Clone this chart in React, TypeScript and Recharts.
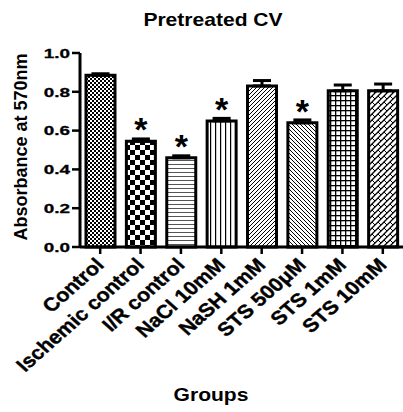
import { Bar, BarChart, Cell, ErrorBar, LabelList, XAxis, YAxis } from "recharts";

const groups = [
    "Control",
    "Ischemic control",
    "I/R control",
    "NaCl 10mM",
    "NaSH 1mM",
    "STS 500μM",
    "STS 1mM",
    "STS 10mM",
];
const means = [0.885, 0.545, 0.46, 0.65, 0.83, 0.64, 0.805, 0.805];
const sem = [0.008, 0.012, 0.01, 0.013, 0.028, 0.015, 0.03, 0.035];
const significant = [false, true, true, true, false, true, false, false];
const yTicks = [0, 0.2, 0.4, 0.6, 0.8, 1.0];

const data = groups.map((g, i) => ({
    group: g,
    mean: means[i],
    err: [0, sem[i]],
    star: significant[i] ? "*" : "",
}));

const FONT = "'Liberation Sans', Arial, sans-serif";

const YTick = (props: any) => {
    const { x, y, payload } = props;
    return (
        <text
            transform={`translate(${x},${y}) scale(1.4,1)`}
            textAnchor="end"
            dy="0.36em"
            fontFamily={FONT}
            fontWeight="bold"
            fontSize={13.5}
            fill="#000"
            stroke="#000"
            strokeWidth={0.3}
        >
            {Number(payload.value).toFixed(1)}
        </text>
    );
};

const XTick = (props: any) => {
    const { x, y, payload } = props;
    return (
        <text
            transform={`translate(${x + 5},${y + 10}) scale(1.13,1) rotate(-45)`}
            textAnchor="end"
            fontFamily={FONT}
            fontWeight="bold"
            fontSize={19}
            fill="#000"
            stroke="#000"
            strokeWidth={0.4}
        >
            {payload.value}
        </text>
    );
};

// asterisk over the significant groups
const StarLabel = (props: any) => {
    const { x, y, width, value } = props;
    if (!value) return null;
    return (
        <text
            x={x + width / 2}
            y={y}
            textAnchor="middle"
            fontFamily={FONT}
            fontWeight="bold"
            fontSize={34}
            fill="#000"
        >
            {value}
        </text>
    );
};

export default function App() {
    return (
        <div style={{ position: "absolute", left: 0, top: 0, width: 403, height: 412, background: "#fff" }}>
            <BarChart
                width={403}
                height={412}
                data={data}
                margin={{ top: 53, right: 0, left: 0, bottom: 0 }}
            >
                <defs>
                    <pattern id="p0" width="4" height="4" patternUnits="userSpaceOnUse">
                        <rect width="4" height="4" fill="#fff" />
                        <rect width="2" height="2" fill="#000" />
                        <rect x="2" y="2" width="2" height="2" fill="#000" />
                    </pattern>
                    <pattern id="p1" width="10" height="10" patternUnits="userSpaceOnUse">
                        <rect width="10" height="10" fill="#fff" />
                        <rect width="5" height="5" fill="#000" />
                        <rect x="5" y="5" width="5" height="5" fill="#000" />
                    </pattern>
                    <pattern id="p2" width="4" height="4" patternUnits="userSpaceOnUse">
                        <rect width="4" height="4" fill="#fff" />
                        <rect y="0" width="4" height="1" fill="#555" />
                    </pattern>
                    <pattern id="p3" width="5" height="5" patternUnits="userSpaceOnUse">
                        <rect width="5" height="5" fill="#fff" />
                        <rect x="0" width="1.2" height="5" fill="#000" />
                    </pattern>
                    <pattern id="p4" width="4" height="4" patternUnits="userSpaceOnUse">
                        <rect width="4" height="4" fill="#fff" />
                        <path d="M-1,1 l2,-2 M0,4 l4,-4 M3,5 l2,-2" stroke="#000" strokeWidth="1" />
                    </pattern>
                    <pattern id="p5" width="4" height="4" patternUnits="userSpaceOnUse">
                        <rect width="4" height="4" fill="#fff" />
                        <path d="M-1,3 l2,2 M0,0 l4,4 M3,-1 l2,2" stroke="#000" strokeWidth="1" />
                    </pattern>
                    <pattern id="p6" width="5" height="5" patternUnits="userSpaceOnUse">
                        <rect width="5" height="5" fill="#fff" />
                        <rect width="5" height="1.3" fill="#000" />
                        <rect width="1.3" height="5" fill="#000" />
                    </pattern>
                    <pattern id="p7" width="6" height="6" patternUnits="userSpaceOnUse">
                        <rect width="6" height="6" fill="#fff" />
                        <path d="M0,6 l6,-6 M-1,1 l2,-2 M5,7 l2,-2" stroke="#000" strokeWidth="1.3" />
                        <path d="M0,0 l3,3" stroke="#000" strokeWidth="1" />
                    </pattern>
                </defs>
                <XAxis
                    dataKey="group"
                    interval={0}
                    height={165}
                    tickSize={7}
                    tick={<XTick />}
                    axisLine={{ stroke: "#000", strokeWidth: 3 }}
                    tickLine={{ stroke: "#000", strokeWidth: 2.5 }}
                />
                <YAxis
                    domain={[0, 1]}
                    ticks={yTicks}
                    width={80}
                    tickSize={8}
                    tick={<YTick />}
                    axisLine={{ stroke: "#000", strokeWidth: 3 }}
                    tickLine={{ stroke: "#000", strokeWidth: 2.5 }}
                />
                <Bar
                    dataKey="mean"
                    barSize={29}
                    stroke="#000"
                    strokeWidth={3}
                    isAnimationActive={false}
                >
                    {data.map((d, i) => (
                        <Cell key={d.group} fill={`url(#p${i})`} />
                    ))}
                    <ErrorBar dataKey="err" width={9} stroke="#000" strokeWidth={3} direction="y" />
                    <LabelList dataKey="star" content={<StarLabel />} />
                </Bar>
            </BarChart>
            <svg
                width={403}
                height={412}
                style={{ position: "absolute", left: 0, top: 0, pointerEvents: "none" }}
            >
                <text
                    transform="translate(213,26) scale(1.17,1)"
                    textAnchor="middle"
                    fontFamily={FONT}
                    fontWeight="bold"
                    fontSize={18}
                >
                    Pretreated CV
                </text>
                <text
                    transform="translate(27,147) rotate(-90)"
                    textAnchor="middle"
                    fontFamily={FONT}
                    fontWeight="bold"
                    fontSize={18}
                >
                    Absorbance at 570nm
                </text>
                <text
                    transform="translate(211,401) scale(1.17,1)"
                    textAnchor="middle"
                    fontFamily={FONT}
                    fontWeight="bold"
                    fontSize={18}
                >
                    Groups
                </text>
            </svg>
        </div>
    );
}
